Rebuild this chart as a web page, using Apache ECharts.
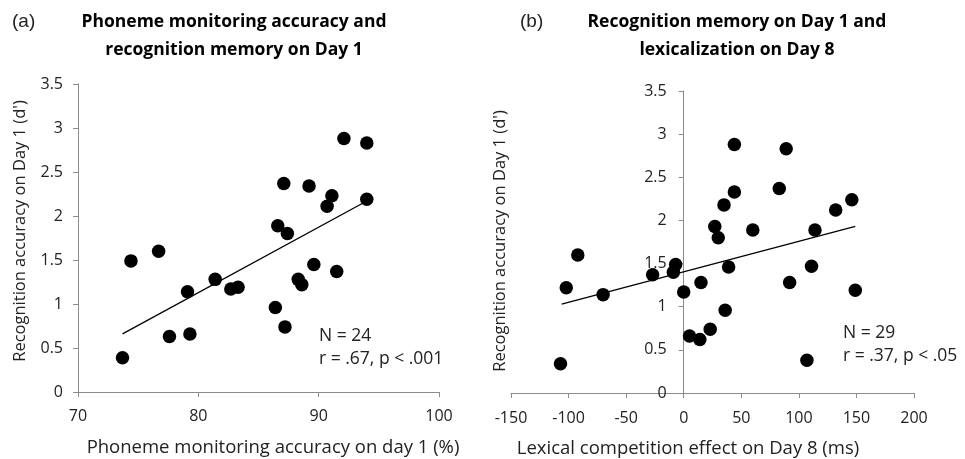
<!DOCTYPE html>
<html>
<head>
<meta charset="UTF-8" />
<title>Phoneme monitoring and lexicalization</title>
<script src="https://cdn.jsdelivr.net/npm/echarts@6/dist/echarts.min.js"></script>
<style>
    html, body { margin: 0; padding: 0; background: #fff; }
    #chart { width: 965px; height: 459px; }
</style>
</head>
<body>
<div id="chart"></div>
<script>
// panel (a): phoneme monitoring accuracy (%) vs recognition d'
const phonemeAcc = [92.1, 94.0, 87.1, 89.2, 91.1, 90.7, 94.0, 86.6, 87.4, 74.4, 76.7,
    89.6, 91.5, 79.1, 81.4, 82.7, 83.3, 88.3, 88.6, 86.4, 87.2, 77.6, 79.3, 73.7];
const recogA = [2.88, 2.83, 2.37, 2.34, 2.23, 2.11, 2.19, 1.89, 1.80, 1.49, 1.60,
    1.45, 1.37, 1.14, 1.28, 1.17, 1.19, 1.28, 1.22, 0.96, 0.74, 0.63, 0.66, 0.39];
const trendA = [[73.7, 0.66], [94.0, 2.17]];

// panel (b): lexical competition effect (ms) vs recognition d'
const lexEffect = [44, 89, 83, 44, 35, 146, 132, 27, 30, 60, 114, -92, 39, 111,
    -7, -9, -27, -102, -70, 0, 15, 92, 149, 36, 23, 5, 14, -107, 107];
const recogB = [2.88, 2.83, 2.37, 2.33, 2.18, 2.24, 2.12, 1.93, 1.80, 1.89, 1.89, 1.60, 1.46, 1.47,
    1.49, 1.40, 1.37, 1.22, 1.14, 1.17, 1.28, 1.28, 1.19, 0.96, 0.74, 0.66, 0.62, 0.34, 0.38];
const trendB = [[-106, 1.03], [149, 1.93]];

const font = '"Open Sans", sans-serif';
const axisGrey = '#8c8c8c';

function pairs(xs, ys) {
    return xs.map((x, i) => [x, ys[i]]);
}

function xAxisCfg(gridIndex, min, max, step, labelGap) {
    return {
        type: 'value', gridIndex: gridIndex, min: min, max: max, interval: step,
        splitLine: { show: false },
        axisLine: { onZero: false, lineStyle: { color: axisGrey, width: 1 } },
        axisTick: { show: true, length: 5, lineStyle: { color: axisGrey } },
        axisLabel: { color: '#222', fontSize: 16, fontFamily: font, margin: labelGap }
    };
}

// offset < 0 pulls the y axis inside the grid (panel b has it at x = 0)
function yAxisCfg(gridIndex, offset, labelGap) {
    return {
        type: 'value', gridIndex: gridIndex, min: 0, max: 3.5, interval: 0.5,
        position: 'left', offset: offset,
        splitLine: { show: false },
        axisLine: { show: true, onZero: false, lineStyle: { color: axisGrey, width: 1 } },
        axisTick: { show: true, length: 5, lineStyle: { color: axisGrey } },
        axisLabel: { color: '#222', fontSize: 16, fontFamily: font, margin: labelGap, hideOverlap: false }
    };
}

const chart = echarts.init(document.getElementById('chart'));
chart.setOption({
    animation: false,
    backgroundColor: '#fff',
    grid: [
        { left: 78, right: 526, top: 84, bottom: 67 },
        { left: 511, right: 51, top: 91, bottom: 66 }
    ],
    xAxis: [xAxisCfg(0, 70, 100, 10, 16), xAxisCfg(1, -150, 200, 50, 17)],
    yAxis: [yAxisCfg(0, 0, 15), yAxisCfg(1, -172.7, 17)],
    series: [
        { type: 'scatter', xAxisIndex: 0, yAxisIndex: 0, data: pairs(phonemeAcc, recogA),
          symbolSize: 13.5, itemStyle: { color: '#000', opacity: 1 } },
        { type: 'line', xAxisIndex: 0, yAxisIndex: 0, data: trendA, symbol: 'none',
          lineStyle: { color: '#000', width: 1.3 } },
        { type: 'scatter', xAxisIndex: 1, yAxisIndex: 1, data: pairs(lexEffect, recogB),
          symbolSize: 13.5, itemStyle: { color: '#000', opacity: 1 } },
        { type: 'line', xAxisIndex: 1, yAxisIndex: 1, data: trendB, symbol: 'none',
          lineStyle: { color: '#000', width: 1.3 } }
    ],
    graphic: [
        // panel letters
        { type: 'text', left: 12, top: 12, style: { text: '(a)', fontSize: 19, fontFamily: 'Liberation Sans', fill: '#222' } },
        { type: 'text', left: 520, top: 12, style: { text: '(b)', fontSize: 19, fontFamily: 'Liberation Sans', fill: '#222' } },
        // titles
        { type: 'text', x: 234, y: 8, style: { text: 'Phoneme monitoring accuracy and\nrecognition memory on Day 1',
          fontSize: 17.5, fontWeight: 'bold', fontFamily: font, fill: '#000', align: 'center', lineHeight: 28 } },
        { type: 'text', x: 737, y: 8, style: { text: 'Recognition memory on Day 1 and\nlexicalization on Day 8',
          fontSize: 17.5, fontWeight: 'bold', fontFamily: font, fill: '#000', align: 'center', lineHeight: 28 } },
        // axis names
        { type: 'text', x: 20, y: 231, rotation: Math.PI / 2, style: { text: "Recognition accuracy on Day 1 (d')",
          fontSize: 16.5, fontFamily: font, fill: '#222', align: 'center', verticalAlign: 'middle' } },
        { type: 'text', x: 500, y: 241, rotation: Math.PI / 2, style: { text: "Recognition accuracy on Day 1 (d')",
          fontSize: 16.5, fontFamily: font, fill: '#222', align: 'center', verticalAlign: 'middle' } },
        { type: 'text', x: 273, y: 448, style: { text: 'Phoneme monitoring accuracy on day 1 (%)',
          fontSize: 18.5, fontFamily: font, fill: '#222', align: 'center', verticalAlign: 'middle' } },
        { type: 'text', x: 688, y: 449, style: { text: 'Lexical competition effect on Day 8 (ms)',
          fontSize: 18.5, fontFamily: font, fill: '#222', align: 'center', verticalAlign: 'middle' } },
        // stats
        { type: 'text', left: 319, top: 325, style: { text: 'N = 24\nr = .67, p < .001',
          fontSize: 17.5, fontFamily: font, fill: '#222', lineHeight: 23 } },
        { type: 'text', left: 843, top: 322, style: { text: 'N = 29\nr = .37, p < .05',
          fontSize: 17.5, fontFamily: font, fill: '#222', lineHeight: 23 } }
    ]
});
</script>
</body>
</html>
